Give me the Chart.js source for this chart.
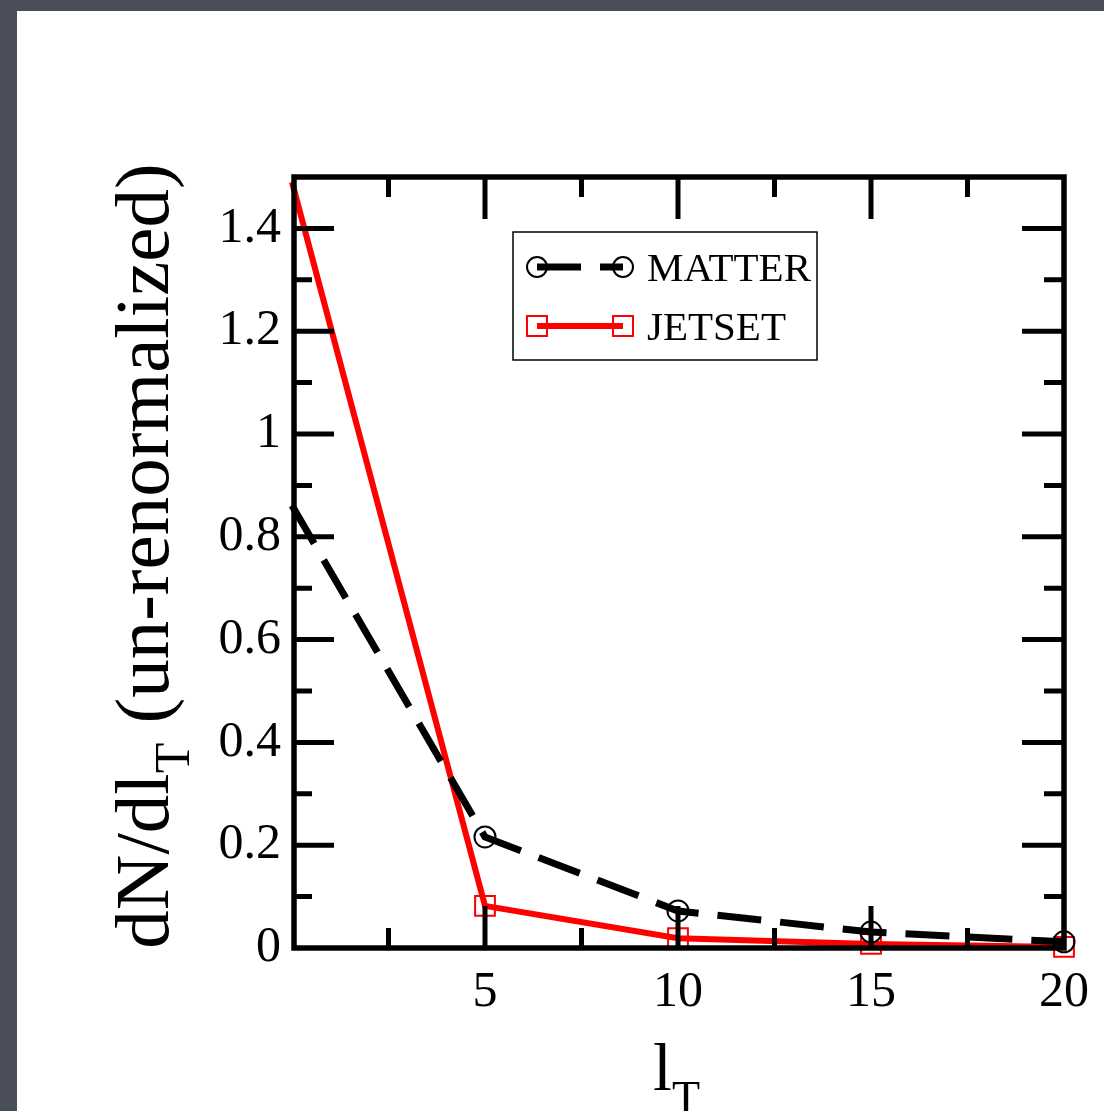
<!DOCTYPE html>
<html lang="en">
<head>
    <meta charset="UTF-8">
    <title>dN/dlT</title>
    <script src="https://cdn.jsdelivr.net/npm/chart.js"></script>
    <style>
        html, body { margin: 0; padding: 0; }
        body { width: 1104px; height: 1111px; background: #4a4e5a; position: relative; overflow: hidden; }
        .page { position: absolute; left: 17px; top: 11px; right: 0; bottom: 0; background: #ffffff; }
        canvas { position: absolute; left: 0; top: 0; }
    </style>
</head>
<body>
    <div class="page"></div>
    <canvas id="chart" width="1104" height="1111"></canvas>
<script>
// datos
const lT = [0, 5, 10, 15, 20];
const matter = [0.861, 0.216, 0.072, 0.031, 0.012];
const jetset = [1.49, 0.082, 0.019, 0.008, 0.002];
const xTicks = [5, 10, 15, 20];
const yTicks = [0, 0.2, 0.4, 0.6, 0.8, 1, 1.2, 1.4];

const serif = '"Liberation Serif", "DejaVu Serif", serif';

// marcas de los ejes hacia dentro, y el marco
const framePlugin = {
    id: 'frame',
    afterDatasetsDraw(chart) {
        const { ctx, chartArea: a, scales: { x, y } } = chart;
        ctx.save();
        ctx.strokeStyle = '#000';
        ctx.lineWidth = 5;
        ctx.lineCap = 'butt';
        ctx.beginPath();
        for (let v = 2.5; v < 20; v += 2.5) {
            const px = x.getPixelForValue(v);
            const len = (v % 5 === 0) ? 42 : 20;
            ctx.moveTo(px, a.bottom); ctx.lineTo(px, a.bottom - len);
            ctx.moveTo(px, a.top); ctx.lineTo(px, a.top + len);
        }
        for (let i = 1; i < 15; i++) {
            const py = y.getPixelForValue(i / 10);
            const len = (i % 2 === 0) ? 42 : 20;
            ctx.moveTo(a.left, py); ctx.lineTo(a.left + len, py);
            ctx.moveTo(a.right, py); ctx.lineTo(a.right - len, py);
        }
        ctx.stroke();
        ctx.lineWidth = 5.5;
        ctx.strokeRect(a.left + 2, a.top, a.right - a.left - 2, a.bottom - a.top);
        ctx.restore();
    }
};

// leyenda y titulos con subindice
const textPlugin = {
    id: 'texts',
    afterDraw(chart) {
        const ctx = chart.ctx;
        ctx.save();
        ctx.fillStyle = '#000';
        ctx.textBaseline = 'alphabetic';

        // leyenda
        const bx = 513, by = 232, bw = 304, bh = 128;
        ctx.lineWidth = 1.5;
        ctx.strokeStyle = '#000';
        ctx.strokeRect(bx, by, bw, bh);
        const rows = [267, 326];
        chart.data.datasets.forEach((ds, i) => {
            const cy = rows[i];
            ctx.save();
            ctx.strokeStyle = ds.borderColor;
            ctx.lineWidth = ds.borderWidth;
            ctx.setLineDash(ds.borderDash || []);
            ctx.beginPath();
            ctx.moveTo(537, cy); ctx.lineTo(623, cy);
            ctx.stroke();
            ctx.setLineDash([]);
            ctx.lineWidth = ds.pointBorderWidth;
            ctx.strokeStyle = ds.pointBorderColor;
            [537, 623].forEach(px => {
                ctx.beginPath();
                if (ds.pointStyle === 'circle') {
                    ctx.arc(px, cy, 10, 0, Math.PI * 2);
                } else {
                    ctx.rect(px - 10, cy - 10, 20, 20);
                }
                ctx.stroke();
            });
            ctx.restore();
            ctx.font = '41px ' + serif;
            ctx.textAlign = 'left';
            ctx.fillText(ds.label, 647, cy + 14);
        });

        // titulo eje x: l_T
        ctx.font = '68px ' + serif;
        ctx.textAlign = 'left';
        ctx.fillText('l', 653, 1090);
        const lw = ctx.measureText('l').width;
        ctx.font = '46px ' + serif;
        ctx.fillText('T', 653 + lw, 1113);

        // titulo eje y: dN/dl_T (un-renormalized)
        const p1 = 'dN/dl', p2 = 'T', p3 = ' (un-renormalized)';
        ctx.translate(168, 556);
        ctx.rotate(-Math.PI / 2);
        ctx.font = '77px ' + serif;
        const w1 = ctx.measureText(p1).width, w3 = ctx.measureText(p3).width;
        ctx.font = '50px ' + serif;
        const w2 = ctx.measureText(p2).width;
        let sx = -(w1 + w2 + w3) / 2;
        ctx.font = '77px ' + serif;
        ctx.fillText(p1, sx, 0);
        ctx.font = '50px ' + serif;
        ctx.fillText(p2, sx + w1, 21);
        ctx.font = '77px ' + serif;
        ctx.fillText(p3, sx + w1 + w2, 0);
        ctx.restore();
    }
};

new Chart(document.getElementById('chart').getContext('2d'), {
    type: 'line',
    data: {
        labels: lT,
        datasets: [{
            label: 'MATTER',
            data: lT.map((v, i) => ({ x: v, y: matter[i] })),
            borderColor: '#000000',
            borderWidth: 7,
            borderDash: [44, 19],
            pointStyle: 'circle',
            pointRadius: [0, 10.5, 10.5, 10.5, 10.5],
            pointBorderWidth: 2,
            pointBorderColor: '#000000',
            pointBackgroundColor: 'rgba(0,0,0,0)',
            clip: false,
            order: 0
        }, {
            label: 'JETSET',
            data: lT.map((v, i) => ({ x: v, y: jetset[i] })),
            borderColor: '#ff0000',
            borderWidth: 6,
            pointStyle: 'rect',
            pointRadius: [0, 14, 14, 14, 14],
            pointBorderWidth: 2,
            pointBorderColor: '#ff0000',
            pointBackgroundColor: 'rgba(0,0,0,0)',
            clip: false,
            order: 1
        }]
    },
    options: {
        responsive: false,
        animation: false,
        layout: { padding: { top: 177, right: 39, left: 0, bottom: 0 } },
        plugins: { legend: { display: false }, tooltip: { enabled: false } },
        elements: { line: { tension: 0 } },
        scales: {
            x: {
                type: 'linear',
                min: 0,
                max: 20,
                grid: { display: false, drawTicks: false },
                border: { display: false },
                afterFit: s => { s.height = 163; },
                afterBuildTicks: s => { s.ticks = xTicks.map(v => ({ value: v })); },
                ticks: { color: '#000', font: { family: serif, size: 50 }, padding: 15, maxRotation: 0, autoSkip: false,
                         callback: v => String(v) }
            },
            y: {
                min: 0,
                max: 1.5,
                grid: { display: false, drawTicks: false },
                border: { display: false },
                afterFit: s => { s.width = 292; },
                afterBuildTicks: s => { s.ticks = yTicks.map(v => ({ value: v })); },
                ticks: { color: '#000', font: { family: serif, size: 50 }, padding: 11, autoSkip: false,
                         callback: v => String(v) }
            }
        }
    },
    plugins: [framePlugin, textPlugin]
});
</script>
</body>
</html>
